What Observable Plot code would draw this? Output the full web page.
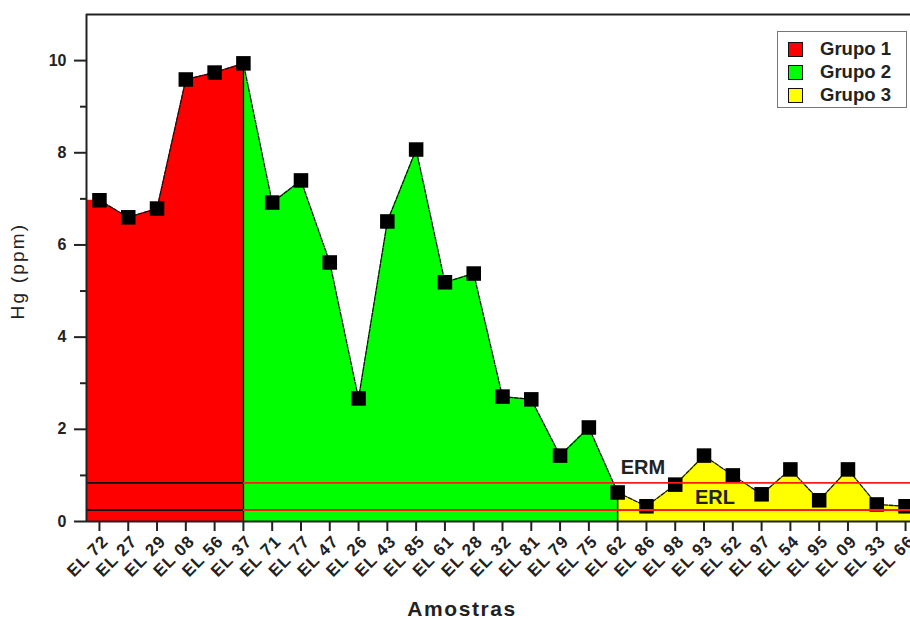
<!DOCTYPE html>
<html>
<head>
<meta charset="utf-8">
<script src="https://cdn.jsdelivr.net/npm/d3@7"></script>
<script src="https://cdn.jsdelivr.net/npm/@observablehq/plot@0.6"></script>
<style>
  html, body { margin: 0; padding: 0; background: white; overflow: hidden; }
  #wrap { position: relative; width: 910px; height: 619px; overflow: hidden;
    font-family: "Liberation Sans", Arial, sans-serif; color: #222; }
  g[aria-label="x-axis tick label"] text { letter-spacing: 1px; }
  .legend { position: absolute; left: 777px; top: 31px; width: 130px; height: 77px;
    border: 1.5px solid #777; background: white; box-sizing: border-box;
    font-weight: bold; font-size: 18.5px; }
  .legend .row { position: absolute; left: 10px; height: 20px; display: flex; align-items: center; }
  .legend .sw { width: 13px; height: 13px; border: 1.5px solid #111; margin-right: 17px; }
  .ytitle { position: absolute; left: 17px; top: 271px; transform: translate(-50%, -50%) rotate(-90deg);
    font-size: 19px; letter-spacing: 2.2px; white-space: nowrap; line-height: 1; }
  .xtitle { position: absolute; left: 462px; top: 608px; transform: translate(-50%, -50%);
    font-size: 21px; font-weight: bold; letter-spacing: 1.6px; white-space: nowrap; line-height: 1; }
</style>
</head>
<body>
<div id="wrap"></div>
<script>
const samples = ["EL 72","EL 27","EL 29","EL 08","EL 56","EL 37",
  "EL 71","EL 77","EL 47","EL 26","EL 43","EL 85","EL 61","EL 28","EL 32","EL 81","EL 79","EL 75","EL 62",
  "EL 86","EL 98","EL 93","EL 52","EL 97","EL 54","EL 95","EL 09","EL 33","EL 66"];
const hg = [6.97, 6.6, 6.79, 9.59, 9.74, 9.94,
  6.92, 7.4, 5.62, 2.67, 6.51, 8.07, 5.19, 5.38, 2.71, 2.65, 1.43, 2.04, 0.63,
  0.33, 0.8, 1.43, 1.0, 0.59, 1.13, 0.46, 1.13, 0.37, 0.33];
const groupOf = [1,1,1,1,1,1, 2,2,2,2,2,2,2,2,2,2,2,2,2, 3,3,3,3,3,3,3,3,3,3];
const groupNames = ["Grupo 1","Grupo 2","Grupo 3"];
const groupColors = ["#ff0000","#00ff00","#ffff00"];
const ERM = 0.84, ERL = 0.25;
const yMajor = [0,2,4,6,8,10];
const yMinor = [1,3,5,7,9];
const xTitle = "Amostras";
const yTitle = "Hg (ppm)";

const xDomain = [-0.45, samples.length - 1 + 0.45];
const pts = samples.map((s, i) => ({i, s, v: hg[i], g: groupOf[i]}));

// area segments per group
const areaMarks = [];
const boundaries = [];
groupNames.forEach((name, k) => {
  const g = k + 1;
  const members = pts.filter(p => p.g === g);
  let seg = members.slice();
  const first = members[0].i;
  if (first > 0) { seg.unshift(pts[first - 1]); boundaries.push(pts[first - 1]); }
  else seg.unshift({i: xDomain[0], v: members[0].v});
  const last = members[members.length - 1].i;
  if (last === pts.length - 1) seg.push({i: xDomain[1], v: members[members.length - 1].v});
  areaMarks.push(Plot.areaY(seg, {x: "i", y: "v", fill: groupColors[k]}));
});

const lastGroup1 = pts.filter(p => p.g === 1).slice(-1)[0].i;
const refLines = [
  {v: ERM, x1: xDomain[0], x2: lastGroup1, c: "#111"},
  {v: ERL, x1: xDomain[0], x2: lastGroup1, c: "#111"},
  {v: ERM, x1: lastGroup1, x2: xDomain[1], c: "#ff1a1a"},
  {v: ERL, x1: lastGroup1, x2: xDomain[1], c: "#ff1a1a"}
];
const i62 = samples.indexOf("EL 62");
const i93 = samples.indexOf("EL 93");

const font = "'Liberation Sans', Arial, sans-serif";
const xTicks = pts.map(p => p.i);

const chart = Plot.plot({
  width: 910, height: 619,
  marginLeft: 86, marginTop: 14, marginBottom: 98, marginRight: 0,
  x: {type: "linear", domain: xDomain, range: [86, 918]},
  y: {domain: [0, 11], range: [521, 14]},
  style: {fontFamily: font, background: "white", overflow: "hidden", color: "#222"},
  marks: [
    ...areaMarks,
    Plot.ruleX(boundaries, {x: "i", y1: 0, y2: "v", stroke: "#111", strokeWidth: 1.5}),
    Plot.line(pts, {x: "i", y: "v", stroke: "#111", strokeWidth: 1.3, strokeDasharray: "4,1.5"}),
    Plot.dot(pts, {x: "i", y: "v", symbol: "square", r: 8.2, fill: "#000", stroke: null}),
    Plot.ruleY(refLines, {y: "v", x1: "x1", x2: "x2", stroke: "c", strokeWidth: 1.8}),
    Plot.text(["ERM"], {x: i62, y: ERM, dx: 3, dy: -15, textAnchor: "start", fontSize: 20, fontWeight: "bold", fill: "#222"}),
    Plot.text(["ERL"], {x: i93, y: ERL, dx: 11, dy: -12, textAnchor: "middle", fontSize: 20, fontWeight: "bold", fill: "#222"}),
    // frame
    Plot.ruleX([xDomain[0]], {y1: 0, y2: 11, stroke: "#222", strokeWidth: 2}),
    Plot.ruleY([11], {x1: xDomain[0], x2: xDomain[1], stroke: "#222", strokeWidth: 2}),
    Plot.ruleY([0], {x1: xDomain[0], x2: xDomain[1], stroke: "#222", strokeWidth: 2}),
    Plot.axisY(yMajor, {tickSize: 12, tickPadding: 8, fontSize: 16, fontWeight: "bold", strokeWidth: 2, label: null}),
    Plot.axisY(yMinor, {tickSize: 6, tickFormat: () => "", strokeWidth: 2, label: null}),
    Plot.axisX(xTicks, {tickSize: 10, tickFormat: () => "", strokeWidth: 2, label: null}),
    Plot.axisX(xTicks, {tickFormat: i => samples[i], tickRotate: -45, tickSize: 0, tickPadding: 17, dx: 6,
      fontSize: 17, fontWeight: "bold", label: null})
  ]
});

const wrap = document.getElementById("wrap");
wrap.appendChild(chart);
const legend = document.createElement("div");
legend.className = "legend";
groupNames.forEach((name, k) => {
  const row = document.createElement("div");
  row.className = "row";
  row.style.top = (7 + k * 23) + "px";
  row.innerHTML = `<div class="sw" style="background:${groupColors[k]}"></div><span>${name}</span>`;
  legend.appendChild(row);
});
wrap.appendChild(legend);
const yt = document.createElement("div"); yt.className = "ytitle"; yt.textContent = yTitle; wrap.appendChild(yt);
const xt = document.createElement("div"); xt.className = "xtitle"; xt.textContent = xTitle; wrap.appendChild(xt);
</script>
</body>
</html>
